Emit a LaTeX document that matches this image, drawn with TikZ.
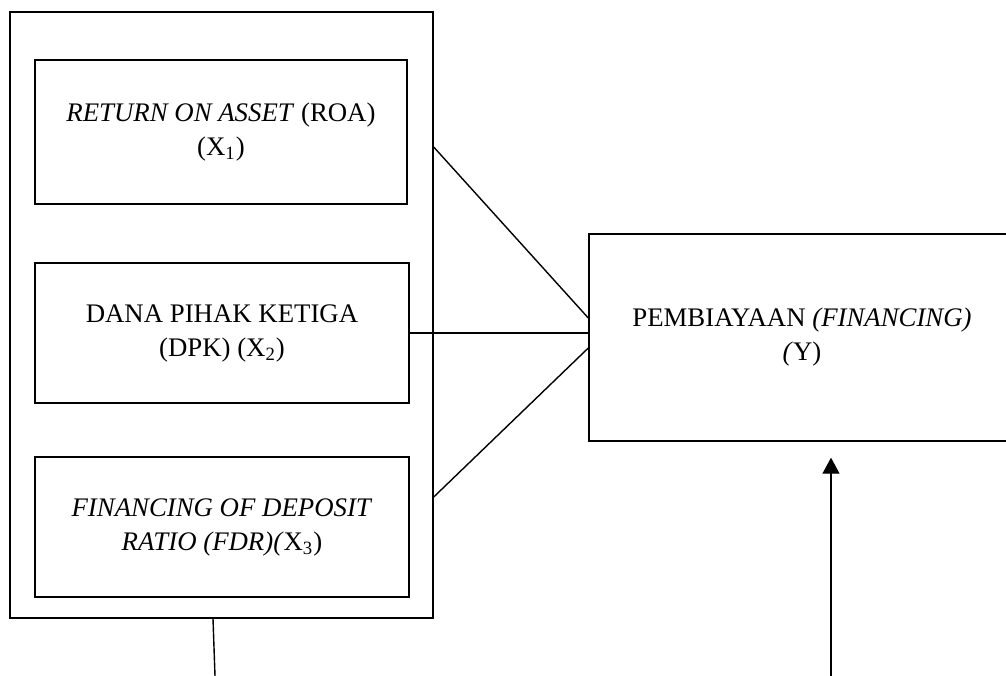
\documentclass[tikz,border=0pt]{standalone}
\usepackage{fontspec}
\setmainfont{Liberation Serif}
\usepackage{tikz}
\usetikzlibrary{calc,arrows.meta}
\tikzset{varbox/.style={draw,line width=0.7pt,align=center,font=\fontsize{13.4}{17}\selectfont,inner sep=0pt}}

\begin{document}
\begin{tikzpicture}[x=0.5pt,y=-0.5pt,line width=0.7pt]
\useasboundingbox (0,0) rectangle (1006,675);
\node[varbox,minimum width=211.5pt,minimum height=303pt] (outer) at (221.5,315) {};
\node[varbox,minimum width=186pt,minimum height=72pt] (roa) at (221,132) {\textit{RETURN ON ASSET} (ROA)\\(X\textsubscript{1})};
\node[varbox,minimum width=187pt,minimum height=70pt] (dpk) at (222,333) {DANA PIHAK KETIGA\\(DPK) (X\textsubscript{2})};
\node[varbox,minimum width=187pt,minimum height=70pt] (fdr) at (222,527) {\textit{FINANCING OF DEPOSIT}\\\textit{RATIO (FDR)(}X\textsubscript{3})};
\node[varbox,minimum width=213pt,minimum height=103.5pt] (fin) at (802,337.5) {PEMBIAYAAN \textit{(FINANCING)}\\\textit{(}Y)};
\coordinate (low) at (215,676); \coordinate (base) at (831,676);
\draw ($(outer.east)+(0,-168)$) -- ($(fin.west)+(0,-19.5)$);
\draw (dpk.east) -- (dpk.east -| fin.west);
\draw ($(outer.east)+(0,182)$) -- ($(fin.west)+(0,10.5)$);
\draw ($(outer.south)+(-8.5,0)$) -- (low);
\draw[-{Triangle[length=8pt,width=8.5pt]}] (base) -- ($(base |- fin.south)+(0,16)$);
\end{tikzpicture}
\end{document}
